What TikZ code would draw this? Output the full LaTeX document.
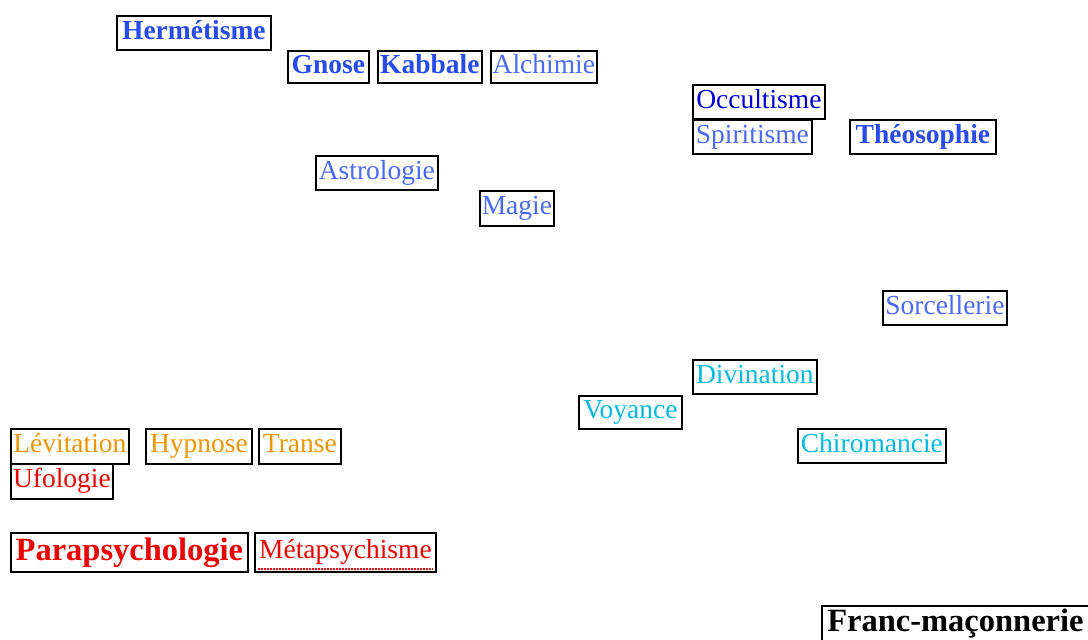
\documentclass[tikz,border=0pt]{standalone}
\usepackage{fontspec}
\setmainfont{Liberation Serif}
\usepackage{tikz}
\usetikzlibrary{positioning}
\definecolor{occultblue}{RGB}{0,0,215}
\definecolor{hermblue}{RGB}{40,75,235}
\definecolor{paleblue}{RGB}{75,105,250}
\definecolor{divcyan}{RGB}{0,185,225}
\definecolor{tranceorange}{RGB}{235,150,0}
\definecolor{parared}{RGB}{235,0,0}
\tikzset{
  term/.style={draw=black, line width=1.8pt, anchor=north west, inner sep=1pt,
               text height=19pt, text depth=6pt, font=\fontsize{27.5}{29}\selectfont},
  strong/.style={term, font=\fontsize{27.5}{29}\selectfont\bfseries},
  big/.style={term, text height=22.5pt, text depth=7pt, font=\fontsize{32.5}{34}\selectfont\bfseries},
  spell/.style={draw=parared, line width=2pt, dash pattern=on 1.5pt off 1.5pt},
}
\begin{document}
\begin{tikzpicture}[x=1pt,y=-1pt]
  \useasboundingbox (0,0) rectangle (1088,640);
  % esoteric traditions
  \foreach \n/\x/\y/\w/\h/\t in {herm/116/15/154/34/Hermétisme, gnose/287/50/81/32/Gnose,
                                 kab/377/50/104/32/Kabbale, theo/849/119/146/34/Théosophie}{
    \node[strong, text=hermblue, minimum width=\w pt, minimum height=\h pt] (\n) at (\x,\y) {\t};
  }
  \foreach \n/\x/\y/\w/\h/\t in {alch/490/50/106/32/Alchimie, spir/692/119/119/34/Spiritisme,
                                 astro/315/155/122/34/Astrologie, magie/479/190/74/35/Magie,
                                 sorc/882/290/124/34/Sorcellerie}{
    \node[term, text=paleblue, minimum width=\w pt, minimum height=\h pt] (\n) at (\x,\y) {\t};
  }
  \node[term, text=occultblue, minimum width=132pt, minimum height=34pt] (occ) at (692,84) {Occultisme};
  % divination arts
  \foreach \n/\x/\y/\w/\h/\t in {div/692/359/124/34/Divination, voy/578/395/103/33/Voyance,
                                 chiro/797/428/148/34/Chiromancie}{
    \node[term, text=divcyan, minimum width=\w pt, minimum height=\h pt] (\n) at (\x,\y) {\t};
  }
  % altered states
  \foreach \n/\x/\w/\t in {lev/10/118/Lévitation, hyp/145/106/Hypnose, trans/258/82/Transe}{
    \node[term, text=tranceorange, minimum width=\w pt, minimum height=35pt] (\n) at (\x,428) {\t};
  }
  \node[term, text=parared, minimum width=102pt, minimum height=35pt] (ufo) at (10,463) {Ufologie};
  \node[big, text=parared, minimum width=237pt, minimum height=39pt] (para) at (10,532) {Parapsychologie};
  \node[term, text=parared, minimum width=181pt, minimum height=39pt] (meta) at (254,532) {Métapsychisme};
  \draw[spell] ([shift={(4,-4)}]meta.south west) -- ([shift={(-4,-4)}]meta.south east);
  \node[big, text=black, minimum width=267pt, minimum height=35pt] (franc) at (821,605) {Franc-maçonnerie};
\end{tikzpicture}
\end{document}
